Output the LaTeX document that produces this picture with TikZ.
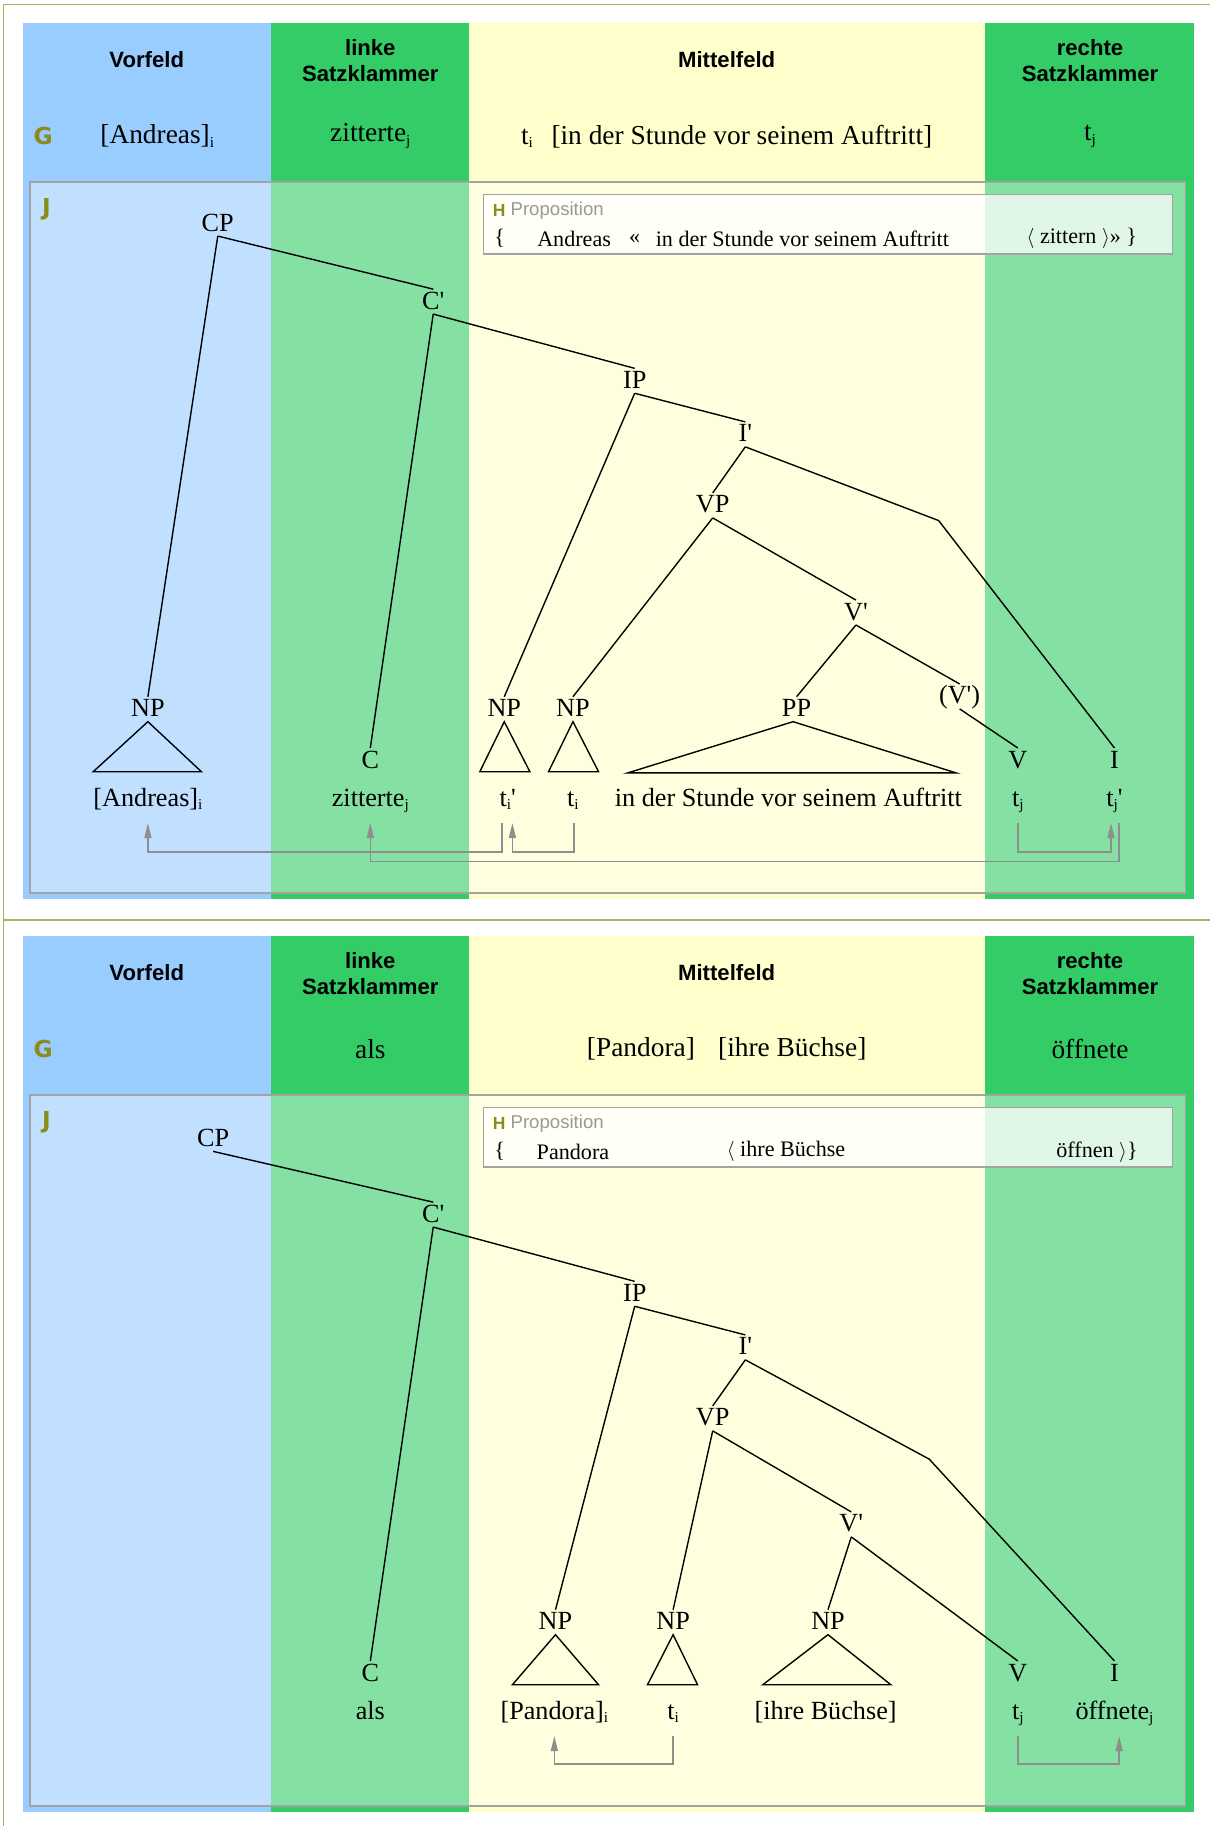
\documentclass[tikz,border=0pt]{standalone}
\usepackage{fontspec}
\setmainfont{Liberation Serif}
\setsansfont{Liberation Sans}
\newfontfamily\tagfont{DejaVu Sans}
\usetikzlibrary{positioning, arrows.meta}
\definecolor{vfblue}{HTML}{99CCFF}
\definecolor{skgreen}{HTML}{33CC66}
\definecolor{mfyellow}{HTML}{FFFFCC}
\definecolor{tagolive}{HTML}{8C8C1C}
\definecolor{boxgray}{HTML}{A3A3A3}
\definecolor{movegray}{HTML}{8E8E8E}
\definecolor{titlegray}{HTML}{999999}
\newcommand{\ix}[1]{\raisebox{-3pt}{\fontsize{13}{13}\selectfont #1}}
\newcommand{\prm}{\textquotesingle}

\begin{document}
\begin{tikzpicture}[
    x=1pt, y=-1pt,
    head/.style={font=\sffamily\bfseries\fontsize{19}{23}\selectfont, align=center},
    gtext/.style={font=\fontsize{23.5}{27}\selectfont},
    fieldtag/.style={font=\tagfont\bfseries\fontsize{20}{20}\selectfont, text=tagolive, inner sep=0pt},
    htag/.style={font=\sffamily\bfseries\fontsize{15}{15}\selectfont, text=tagolive, inner sep=0pt},
    proptitle/.style={font=\sffamily\fontsize{16}{16}\selectfont, text=titlegray, inner sep=0pt},
    prop/.style={font=\fontsize{19}{22}\selectfont, inner sep=0pt},
    catnode/.style={font=\fontsize{22.5}{27}\selectfont, inner sep=1pt, text height=16pt, text depth=3pt},
    branch/.style={line width=1.2pt},
    mv/.style={draw=movegray, line width=1.4pt, -{Triangle[length=13pt, width=6pt]}},
    jbox/.style={draw=boxgray, line width=1.6pt, fill=white, fill opacity=0.4},
    hbox/.style={draw=boxgray, line width=1.2pt, fill=white, fill opacity=0.75},
    panelline/.style={draw=tagolive!70, line width=1pt}
]
    \useasboundingbox (0,0) rectangle (1039,1568);

    % two panels: fields, tags, boxes
    \foreach \oy/\p in {0/1, 784/2} {
        \fill[vfblue] (20,20+\oy) rectangle (233,772+\oy);
        \fill[skgreen] (233,20+\oy) rectangle (403,772+\oy);
        \fill[mfyellow] (403,20+\oy) rectangle (846,772+\oy);
        \fill[skgreen] (846,20+\oy) rectangle (1025,772+\oy);
        \node[head] (vf\p) at (126,51+\oy) {Vorfeld};
        \node[head] (lsk\p) at (318,52+\oy) {linke\\Satzklammer};
        \node[head] (mf\p) at (624,51+\oy) {Mittelfeld};
        \node[head] (rsk\p) at (936,52+\oy) {rechte\\Satzklammer};
        \node[fieldtag] (g\p) at (37,117+\oy) {G};
        \draw[jbox] (26,156+\oy) rectangle (1018,767+\oy);
        \node[fieldtag] (j\p) at (40,180+\oy) {J};
        \draw[hbox] (415,167+\oy) rectangle (1007,218+\oy);
        \node[htag, anchor=west] (h\p) at (423,181+\oy) {H};
        \node[proptitle, right=4pt of h\p] (pt\p) {Proposition};
    }
    \draw[panelline] (1039,4) -- (3,4) -- (3,1568);
    \draw[panelline] (3,790) -- (1039,790);

    % panel 1: Andreas zitterte ...
    \node[gtext] (gA) at (135,117) {[Andreas]\ix{i}};
    \node[gtext] (gB) at (318,117) {zitterte\ix{j}};
    \node[gtext] (gC) at (624,117) {t\ix{i}\hspace{16pt}[in der Stunde vor seinem Auftritt]};
    \node[gtext] (gD) at (936,117) {t\ix{j}};

    \node[prop] (pa) at (429,205) {\{};
    \node[prop] (pb) at (493,205) {Andreas};
    \node[prop] (pc) at (545,205) {«};
    \node[prop] (pd) at (689,205) {in der Stunde vor seinem Auftritt};
    \node[prop] (pe) at (929,205) {$\langle$ zittern $\rangle$» \}};

    \node[catnode] (cp) at (187,192) {CP};
    \node[catnode] (cbar) at (372,259) {C\prm};
    \node[catnode] (ip) at (545,327) {IP};
    \node[catnode] (ibar) at (640,373) {I\prm};
    \node[catnode] (vp) at (612,434) {VP};
    \node[catnode] (vbar) at (735,526) {V\prm};
    \node[catnode] (vbarx) at (824,598) {(V\prm)};
    \node[catnode] (npA) at (127,609) {NP};
    \node[catnode] (npB) at (433,609) {NP};
    \node[catnode] (npC) at (492,609) {NP};
    \node[catnode] (pp) at (684,609) {PP};
    \node[catnode] (c) at (318,653) {C};
    \node[catnode] (v) at (874,653) {V};
    \node[catnode] (i) at (957,653) {I};
    \coordinate (bendA) at (806,447);

    \node[catnode] (andr) at (127,686) {[Andreas]\ix{i}};
    \node[catnode] (zit) at (318,686) {zitterte\ix{j}};
    \node[catnode] (tia) at (436,686) {t\ix{i}\prm};
    \node[catnode] (tib) at (492,686) {t\ix{i}};
    \node[catnode] (ppw) at (677,686) {in der Stunde vor seinem Auftritt};
    \node[catnode] (tja) at (874,686) {t\ix{j}};
    \node[catnode] (tjb) at (957,686) {t\ix{j}\prm};

    \draw[branch] (cp.south) -- (cbar.north);
    \draw[branch] (cp.south) -- (npA.north);
    \draw[branch] (cbar.south) -- (c.north);
    \draw[branch] (cbar.south) -- (ip.north);
    \draw[branch] (ip.south) -- (npB.north);
    \draw[branch] (ip.south) -- (ibar.north);
    \draw[branch] (ibar.south) -- (vp.north);
    \draw[branch] (ibar.south) -- (bendA) -- (i.north);
    \draw[branch] (vp.south) -- (npC.north);
    \draw[branch] (vp.south) -- (vbar.north);
    \draw[branch] (vbar.south) -- (pp.north);
    \draw[branch] (vbar.south) -- (vbarx.north);
    \draw[branch] (vbarx.south) -- (v.north);

    \draw[branch] (npA.south) -- ++(-47,43) -- ++(93,0) -- cycle;
    \draw[branch] (npB.south) -- ++(-21,43) -- ++(43,0) -- cycle;
    \draw[branch] (npC.south) -- ++(-21,43) -- ++(43,0) -- cycle;
    \draw[branch] ([xshift=-3pt]pp.south) -- ++(-142,44) -- ++(282,0) -- cycle;

    \draw[mv] ([xshift=-5pt,yshift=-10pt]tia.south) -- ++(0,25) -| ([yshift=-10pt]andr.south);
    \draw[mv] ([xshift=1pt,yshift=-10pt]tib.south) -- ++(0,25) -| ([xshift=4pt,yshift=-10pt]tia.south);
    \draw[mv] ([xshift=4pt,yshift=-10pt]tjb.south) -- ++(0,33) -| ([yshift=-10pt]zit.south);
    \draw[mv] ([yshift=-10pt]tja.south) -- ++(0,25) -| ([xshift=-3pt,yshift=-10pt]tjb.south);

    % panel 2: als Pandora ihre Buechse oeffnete
    \node[gtext] (hB) at (318,901) {als};
    \node[gtext] (hC) at (624,901) {[Pandora]\hspace{20pt}[ihre Büchse]};
    \node[gtext] (hD) at (936,901) {öffnete};

    \node[prop] (qa) at (429,989) {\{};
    \node[prop] (qb) at (492,989) {Pandora};
    \node[prop] (qc) at (675,989) {$\langle$ ihre Büchse};
    \node[prop] (qd) at (942,989) {öffnen $\rangle$\}};

    \node[catnode] (cp2) at (183,978) {CP};
    \node[catnode] (cbar2) at (372,1043) {C\prm};
    \node[catnode] (ip2) at (545,1111) {IP};
    \node[catnode] (ibar2) at (640,1157) {I\prm};
    \node[catnode] (vp2) at (612,1218) {VP};
    \node[catnode] (vbar2) at (731,1309) {V\prm};
    \node[catnode] (np2a) at (477,1393) {NP};
    \node[catnode] (np2b) at (578,1393) {NP};
    \node[catnode] (np2c) at (711,1393) {NP};
    \node[catnode] (c2) at (318,1437) {C};
    \node[catnode] (v2) at (874,1437) {V};
    \node[catnode] (i2) at (957,1437) {I};
    \coordinate (bendB) at (798,1253);

    \node[catnode] (als) at (318,1470) {als};
    \node[catnode] (pand) at (476,1470) {[Pandora]\ix{i}};
    \node[catnode] (tiP) at (578,1470) {t\ix{i}};
    \node[catnode] (buechse) at (709,1470) {[ihre Büchse]};
    \node[catnode] (tjP) at (874,1470) {t\ix{j}};
    \node[catnode] (oeff) at (957,1470) {öffnete\ix{j}};

    \draw[branch] (cp2.south) -- (cbar2.north);
    \draw[branch] (cbar2.south) -- (c2.north);
    \draw[branch] (cbar2.south) -- (ip2.north);
    \draw[branch] (ip2.south) -- (np2a.north);
    \draw[branch] (ip2.south) -- (ibar2.north);
    \draw[branch] (ibar2.south) -- (vp2.north);
    \draw[branch] (ibar2.south) -- (bendB) -- (i2.north);
    \draw[branch] (vp2.south) -- (np2b.north);
    \draw[branch] (vp2.south) -- (vbar2.north);
    \draw[branch] (vbar2.south) -- (np2c.north);
    \draw[branch] (vbar2.south) -- (v2.north);

    \draw[branch] (np2a.south) -- ++(-37,43) -- ++(74,0) -- cycle;
    \draw[branch] (np2b.south) -- ++(-22,43) -- ++(43,0) -- cycle;
    \draw[branch] (np2c.south) -- ++(-56,43) -- ++(110,0) -- cycle;

    \draw[mv] ([yshift=-10pt]tiP.south) -- ++(0,24) -| ([yshift=-10pt]pand.south);
    \draw[mv] ([yshift=-10pt]tjP.south) -- ++(0,24) -| ([xshift=4pt,yshift=-10pt]oeff.south);
\end{tikzpicture}
\end{document}
